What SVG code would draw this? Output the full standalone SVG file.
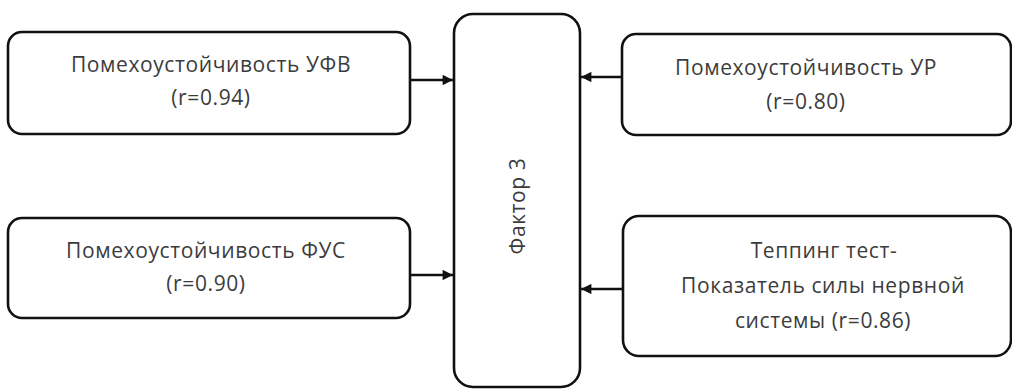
<svg xmlns="http://www.w3.org/2000/svg" width="1012" height="390" viewBox="0 0 1012 390">
  <defs>
    <style>
      .box { fill: #ffffff; stroke: #111111; stroke-width: 2.6; }
      .lbl { font-family: "Open Sans", "Liberation Sans", sans-serif; font-size: 21px; letter-spacing: 0.6px; fill: #3c3c3c; text-anchor: middle; }
      .edge { stroke: #111111; stroke-width: 2.6; fill: none; marker-end: url(#arrow); }
    </style>
    <marker id="arrow" viewBox="0 0 10 10" refX="10" refY="5" markerWidth="4.5" markerHeight="4" orient="auto" markerUnits="strokeWidth">
      <path d="M0,0 L10,5 L0,10 z" fill="#111111"/>
    </marker>
  </defs>
  <rect width="1012" height="390" fill="#ffffff"/>

  <!-- central factor block -->
  <g id="factor3">
    <rect class="box" x="454" y="14" width="126" height="373" rx="19" ry="19"/>
    <text class="lbl" font-size="26" letter-spacing="1.8" transform="translate(525,206) rotate(-90)">Фактор 3</text>
  </g>

  <g id="ufv">
    <rect class="box" x="8" y="32" width="402" height="102" rx="14" ry="14"/>
    <text class="lbl" x="211" y="72">Помехоустойчивость УФВ</text>
    <text class="lbl" x="211" y="105">(r=0.94)</text>
  </g>

  <g id="ur">
    <rect class="box" x="622" y="34" width="389" height="101" rx="14" ry="14"/>
    <text class="lbl" x="806" y="75">Помехоустойчивость УР</text>
    <text class="lbl" x="806" y="109">(r=0.80)</text>
  </g>

  <g id="fus">
    <rect class="box" x="8" y="218" width="402" height="100" rx="14" ry="14"/>
    <text class="lbl" x="206" y="258">Помехоустойчивость ФУС</text>
    <text class="lbl" x="206" y="291">(r=0.90)</text>
  </g>

  <g id="tapping">
    <rect class="box" x="623" y="216" width="388" height="140" rx="16" ry="16"/>
    <text class="lbl" x="824" y="258">Теппинг тест-</text>
    <text class="lbl" x="823" y="293">Показатель силы нервной</text>
    <text class="lbl" x="823" y="328">системы (r=0.86)</text>
  </g>

  <!-- connectors into the factor block -->
  <g id="connectors">
    <line class="edge" x1="410" y1="80" x2="453" y2="80"/>
    <line class="edge" x1="622" y1="77" x2="581" y2="77"/>
    <line class="edge" x1="410" y1="275" x2="453" y2="275"/>
    <line class="edge" x1="623" y1="289" x2="581" y2="289"/>
  </g>
</svg>
